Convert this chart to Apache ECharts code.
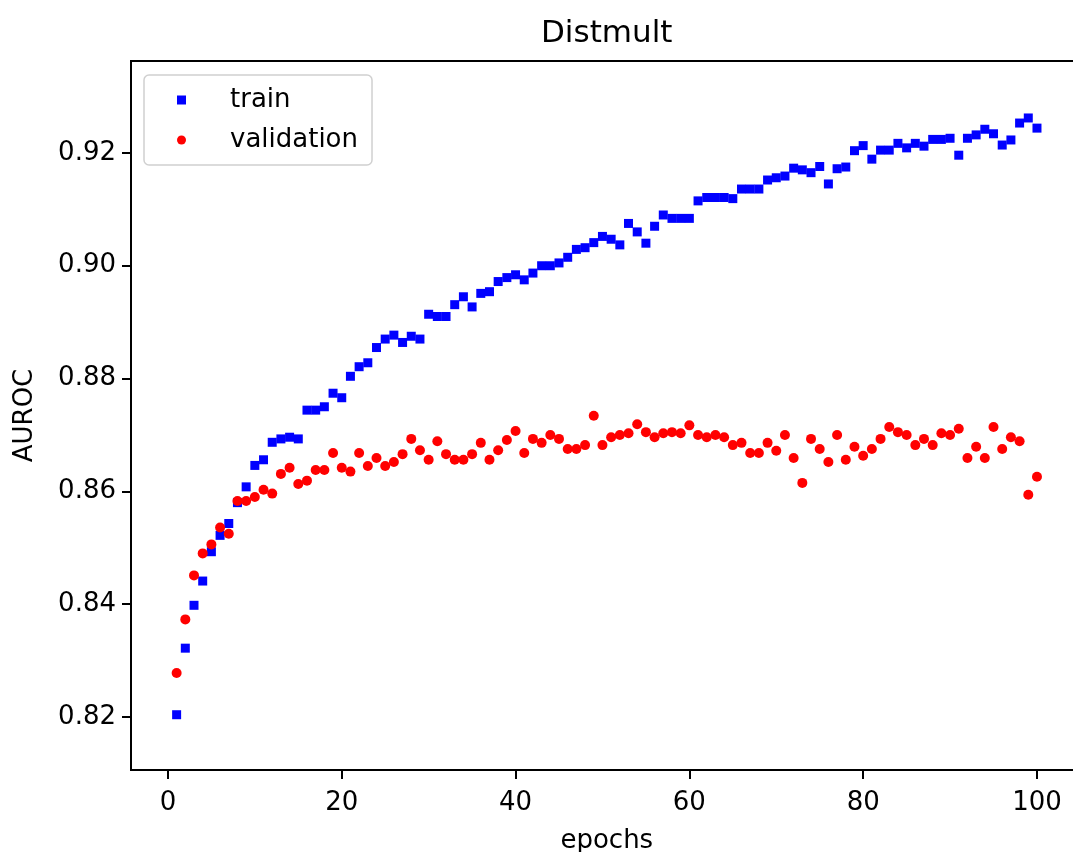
<!DOCTYPE html>
<html>
<head>
<meta charset="utf-8">
<title>Distmult</title>
<script src="https://cdn.jsdelivr.net/npm/echarts@6/dist/echarts.min.js"></script>
<style>
  html, body { margin: 0; padding: 0; background: #fff; }
  #chart { width: 1073px; height: 852px; }
</style>
</head>
<body>
<div id="chart"></div>
<script>
// epochs on the x axis
const epochs = [
  1, 2, 3, 4, 5, 6, 7, 8, 9, 10, 11, 12, 13, 14, 15, 16, 17, 18, 19, 20,
  21, 22, 23, 24, 25, 26, 27, 28, 29, 30, 31, 32, 33, 34, 35, 36, 37, 38, 39, 40,
  41, 42, 43, 44, 45, 46, 47, 48, 49, 50, 51, 52, 53, 54, 55, 56, 57, 58, 59, 60,
  61, 62, 63, 64, 65, 66, 67, 68, 69, 70, 71, 72, 73, 74, 75, 76, 77, 78, 79, 80,
  81, 82, 83, 84, 85, 86, 87, 88, 89, 90, 91, 92, 93, 94, 95, 96, 97, 98, 99, 100
];

// AUROC on the training set
const trainAuroc = [
  0.8204, 0.8322, 0.8398, 0.8441, 0.8493, 0.8522, 0.8543, 0.8580, 0.8608, 0.8646,
  0.8656, 0.8687, 0.8693, 0.8696, 0.8693, 0.8744, 0.8744, 0.8750, 0.8774, 0.8766,
  0.8804, 0.8821, 0.8828, 0.8855, 0.8870, 0.8877, 0.8864, 0.8875, 0.8870, 0.8914,
  0.8910, 0.8910, 0.8931, 0.8945, 0.8927, 0.8951, 0.8954, 0.8972, 0.8979, 0.8984,
  0.8975, 0.8987, 0.9000, 0.9000, 0.9005, 0.9015, 0.9029, 0.9032, 0.9041, 0.9052,
  0.9047, 0.9037, 0.9075, 0.9060, 0.9040, 0.9070, 0.9090, 0.9084, 0.9084, 0.9084,
  0.9115, 0.9121, 0.9121, 0.9121, 0.9119, 0.9136, 0.9136, 0.9136, 0.9152, 0.9156,
  0.9159, 0.9173, 0.9170, 0.9165, 0.9176, 0.9145, 0.9172, 0.9175, 0.9204, 0.9213,
  0.9189, 0.9205, 0.9205, 0.9217, 0.9209, 0.9217, 0.9212, 0.9224, 0.9224, 0.9226,
  0.9196, 0.9226, 0.9232, 0.9242, 0.9234, 0.9214, 0.9223, 0.9253, 0.9262, 0.9244
];

// AUROC on the validation set
const validAuroc = [
  0.8278, 0.8373, 0.8451, 0.8490, 0.8506, 0.8536, 0.8525, 0.8583, 0.8583, 0.8590,
  0.8603, 0.8596, 0.8631, 0.8642, 0.8613, 0.8619, 0.8638, 0.8638, 0.8668, 0.8642,
  0.8635, 0.8668, 0.8645, 0.8659, 0.8645, 0.8652, 0.8666, 0.8693, 0.8673, 0.8656,
  0.8689, 0.8666, 0.8656, 0.8656, 0.8666, 0.8686, 0.8656, 0.8673, 0.8691, 0.8707,
  0.8668, 0.8693, 0.8686, 0.8700, 0.8693, 0.8675, 0.8675, 0.8682, 0.8734, 0.8682,
  0.8696, 0.8700, 0.8703, 0.8719, 0.8705, 0.8696, 0.8703, 0.8705, 0.8703, 0.8717,
  0.8700, 0.8696, 0.8700, 0.8696, 0.8682, 0.8686, 0.8668, 0.8668, 0.8686, 0.8672,
  0.8700, 0.8659, 0.8615, 0.8693, 0.8675, 0.8652, 0.8700, 0.8656, 0.8679, 0.8663,
  0.8675, 0.8693, 0.8714, 0.8705, 0.8700, 0.8682, 0.8693, 0.8682, 0.8703, 0.8700,
  0.8711, 0.8659, 0.8679, 0.8659, 0.8714, 0.8675, 0.8696, 0.8689, 0.8594, 0.8626
];

// tick labels
const xTicks = [0, 20, 40, 60, 80, 100];
const yTicks = [0.82, 0.84, 0.86, 0.88, 0.90, 0.92];

const FONT = 'DejaVu Sans';

const chart = echarts.init(document.getElementById('chart'), null, { renderer: 'canvas' });

const option = {
  animation: false,
  backgroundColor: '#fff',
  title: {
    text: 'Distmult',
    left: 541,
    top: 18,
    padding: 0,
    textStyle: { fontFamily: FONT, fontSize: 31, fontWeight: 'normal', color: '#000' }
  },
  legend: {
    orient: 'vertical',
    left: 144,
    top: 75,
    padding: [10, 14, 10, 33],
    itemGap: 10,
    itemWidth: 9,
    itemHeight: 9,
    borderColor: '#d0d0d0',
    borderWidth: 1.5,
    borderRadius: 5,
    backgroundColor: 'rgba(255,255,255,0.8)',
    textStyle: {
      fontFamily: FONT, fontSize: 26, color: '#000',
      lineHeight: 30, padding: [0, 0, 0, 39]
    },
    data: [
      { name: 'train', icon: 'rect' },
      { name: 'validation', icon: 'circle' }
    ]
  },
  grid: {
    left: 131,
    top: 61,
    width: 951.6,
    height: 709,
    outerBoundsMode: 'none',
    containLabel: false,
    show: true,
    borderColor: '#000',
    borderWidth: 2,
    backgroundColor: 'transparent'
  },
  xAxis: {
    type: 'value',
    min: -4.25,
    max: 105.25,
    name: 'epochs',
    nameLocation: 'middle',
    nameGap: 58,
    nameTextStyle: { fontFamily: FONT, fontSize: 26, color: '#000' },
    axisLine: { show: true, onZero: false, lineStyle: { color: '#000', width: 2 } },
    axisTick: {
      show: true, length: 9, inside: false,
      customValues: xTicks,
      lineStyle: { color: '#000', width: 2 }
    },
    axisLabel: {
      customValues: xTicks,
      margin: 20,
      fontFamily: FONT, fontSize: 26, color: '#000'
    },
    splitLine: { show: false }
  },
  yAxis: {
    type: 'value',
    min: 0.8106,
    max: 0.9363,
    name: 'AUROC',
    nameLocation: 'middle',
    nameGap: 93,
    nameTextStyle: { fontFamily: FONT, fontSize: 26, color: '#000' },
    axisLine: { show: true, onZero: false, lineStyle: { color: '#000', width: 2 } },
    axisTick: {
      show: true, length: 9, inside: false,
      customValues: yTicks,
      lineStyle: { color: '#000', width: 2 }
    },
    axisLabel: {
      customValues: yTicks,
      margin: 15,
      fontFamily: FONT, fontSize: 26, color: '#000',
      formatter: v => v.toFixed(2)
    },
    splitLine: { show: false }
  },
  series: [
    {
      name: 'train',
      type: 'scatter',
      symbol: 'rect',
      symbolSize: 9,
      itemStyle: { color: '#0000ff', opacity: 1 },
      data: epochs.map((e, i) => [e, trainAuroc[i]])
    },
    {
      name: 'validation',
      type: 'scatter',
      symbol: 'circle',
      symbolSize: 10,
      itemStyle: { color: '#ff0000', opacity: 1 },
      data: epochs.map((e, i) => [e, validAuroc[i]])
    }
  ]
};

chart.setOption(option);
</script>
</body>
</html>
